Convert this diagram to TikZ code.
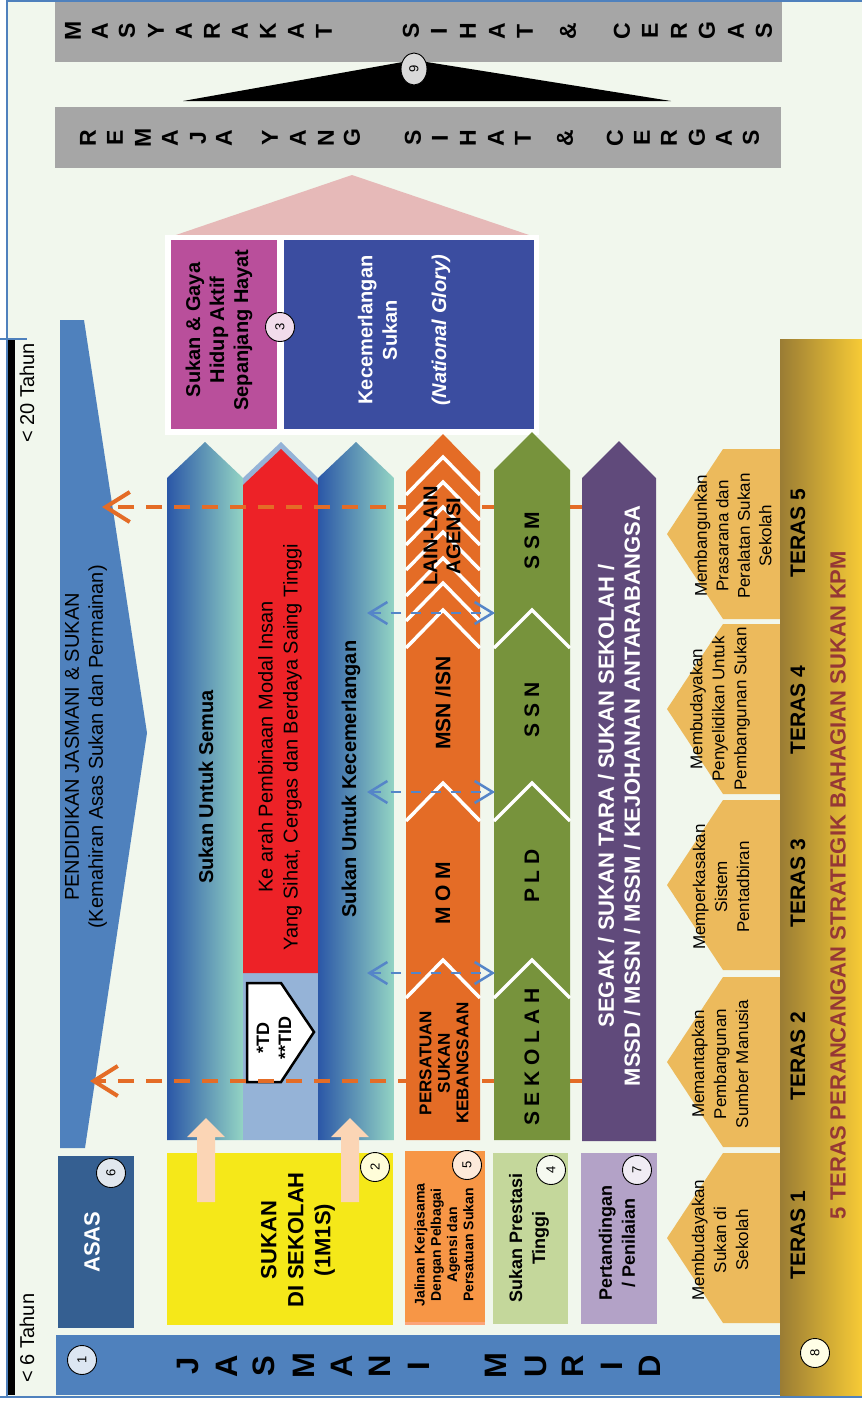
\documentclass[tikz,border=0pt]{standalone}
\usepackage{fontspec}
\setmainfont{Liberation Sans}
\usetikzlibrary{arrows.meta,shapes.geometric}
\newcommand\myfs[2]{\fontsize{#1}{#2}\selectfont}
\definecolor{bgc}{HTML}{F1F7ED}
\definecolor{bordc}{HTML}{4F81BD}
\definecolor{grayb}{HTML}{A6A6A6}
\definecolor{roof}{HTML}{E6B9B8}
\definecolor{magb}{HTML}{B94F9B}
\definecolor{navyb}{HTML}{3B4DA0}
\definecolor{pjblue}{HTML}{4F81BD}
\definecolor{gdark}{HTML}{2B57A7}
\definecolor{gcyan}{HTML}{17B3E1}
\definecolor{gpale}{HTML}{93D4C4}
\definecolor{lblue}{HTML}{95B3D7}
\definecolor{redc}{HTML}{ED2227}
\definecolor{orc}{HTML}{E46C26}
\definecolor{grc}{HTML}{77933C}
\definecolor{puc}{HTML}{604A7B}
\definecolor{peach}{HTML}{FBD5B5}
\definecolor{yel}{HTML}{F5E819}
\definecolor{orl}{HTML}{F79646}
\definecolor{salm}{HTML}{FBA57A}
\definecolor{grl}{HTML}{C4D79B}
\definecolor{lil}{HTML}{B3A2C7}
\definecolor{ter}{HTML}{ECBA5C}
\definecolor{gold1}{HTML}{9A7C34}
\definecolor{gold2}{HTML}{D5AD2B}
\definecolor{gold3}{HTML}{F7CB36}
\definecolor{asas}{HTML}{355F91}
\definecolor{dred}{HTML}{953735}
\definecolor{dashb}{HTML}{5585C8}
\begin{document}
\begin{tikzpicture}[x=1pt,y=-1pt,
  lbl/.style={rotate=90, align=center, inner sep=0pt},
  numc/.style={circle, draw=black, line width=0.9pt, minimum size=29pt, inner sep=0pt, rotate=90, font=\myfs{13}{13}},
  ltr/.style={rotate=90, inner sep=0pt, font=\bfseries\myfs{23}{23}},
  bigltr/.style={rotate=90, inner sep=0pt, font=\bfseries\myfs{31}{31}},
  chev/.style={white, line width=3.5pt},
  odash/.style={orc, line width=4pt, dash pattern=on 16pt off 12pt, -{Straight Barb[length=24pt,width=30pt]}},
  bdash/.style={dashb, line width=2.5pt, dash pattern=on 10pt off 10pt, {Straight Barb[length=18pt,width=22pt]}-{Straight Barb[length=18pt,width=22pt]}},
  terasbox/.style={fill=ter},
  tertext/.style={lbl, font=\myfs{17}{22}},
  terlbl/.style={lbl, font=\bfseries\myfs{21}{21}},
]
\useasboundingbox (0,0) rectangle (862,1401);
% background
\fill[white] (0,0) rectangle (862,1401);
\fill[bgc] (7,1) rectangle (862,1397);
\draw[bordc, line width=1.5pt] (7,1397) -- (7,1) -- (862,1);
\draw[bordc, line width=1.5pt] (0,1397) -- (862,1397);
\draw[bordc, line width=1.5pt] (0,339) -- (27,339);
\fill[black] (8,340) rectangle (15,1395);
\node[lbl, font=\myfs{20}{20}] (t20) at (27,393) {< 20 Tahun};
\node[lbl, font=\myfs{20}{20}] (t6) at (27,1338) {< 6 Tahun};

% top grey boxes
\fill[grayb] (55,2) rectangle (782,62);
\fill[grayb] (55,107) rectangle (781,168);
\foreach \c/\x [count=\i] in {M/73,A/100,S/127,Y/156,A/184,R/212,A/240,K/268,A/296,T/324,S/411,I/439,H/468,A/497,T/525,{\&}/568,C/622,E/650,R/679,G/707,A/736,S/764}
  \node[ltr] (ms\i) at (\x,31) {\c};
\foreach \c/\x [count=\i] in {R/88,E/115,M/143,A/170,J/198,A/224,Y/270,A/298,N/326,G/352,S/413,I/440,H/468,A/496,T/523,{\&}/565,C/615,E/642,R/669,G/697,A/724,S/751}
  \node[ltr] (rm\i) at (\x,138) {\c};
\fill[black] (183,101) -- (414,60) -- (671,101) -- cycle;
\node[ellipse, draw=black, line width=0.9pt, fill=gray!30, rotate=90, minimum width=32pt, minimum height=26pt, inner sep=0pt, font=\myfs{13}{13}] (c9) at (414,69) {9};

% roof and top boxes
\fill[roof] (170,237) -- (352,175) -- (535,237) -- cycle;
\fill[white] (165,235) rectangle (539,435);
\fill[magb] (171,240) rectangle (277,429);
\fill[navyb] (284,240) rectangle (534,429);
\node[lbl, font=\bfseries\myfs{20}{24}] (sg) at (219,330) {Sukan \& Gaya\\Hidup Aktif\\Sepanjang Hayat};
\node[lbl, font=\bfseries\myfs{20}{24.6}, text=white] (ks) at (404,330) {Kecemerlangan\\Sukan\\\mbox{}\\\textit{(National Glory)}};
\node[numc, fill=magb!20] (c3) at (280,327) {3};

% Pendidikan Jasmani
\fill[pjblue] (60,320) -- (84,320) -- (147,733) -- (85,1148) -- (60,1148) -- cycle;
\node[lbl, font=\myfs{20}{24}] (pj) at (86,747) {PENDIDIKAN JASMANI \& SUKAN\\(Kemahiran Asas Sukan dan Permainan)};

% columns 1-3
\shade[left color=gdark, middle color=gcyan, right color=gpale] (167,1140) -- (167,478) -- (205,442) -- (243,478) -- (243,1140) -- cycle;
\fill[lblue] (243,1140) -- (243,478) -- (281,442) -- (318,478) -- (318,1140) -- cycle;
\fill[redc] (243,973) -- (243,485) -- (281,449) -- (318,485) -- (318,973) -- cycle;
\shade[left color=gdark, middle color=gcyan, right color=gpale] (318,1140) -- (318,478) -- (356,442) -- (394,478) -- (394,1140) -- cycle;
\node[lbl, font=\bfseries\myfs{20}{20}] (sus) at (206,787) {Sukan Untuk Semua};
\node[lbl, font=\myfs{20}{25}] (ke) at (280,747) {Ke arah Pembinaan Modal Insan\\Yang Sihat, Cergas dan Berdaya Saing Tinggi};
\node[lbl, font=\bfseries\myfs{20}{20}] (suk) at (351,779) {Sukan Untuk Kecemerlangan};
\draw[black, line width=2.5pt, fill=white] (247,983) -- (281,983) -- (314,1032) -- (281,1082) -- (247,1082) -- cycle;
\node[lbl, font=\bfseries\myfs{18}{22}] (td) at (274,1038) {*TD\\**TID};

% orange dashed arrows
\coordinate (oR1) at (582,507); \coordinate (oL1) at (102,507);
\coordinate (oR2) at (582,1081); \coordinate (oL2) at (90,1081);
\draw[odash] (oR1) -- (oL1);
\draw[odash] (oR2) -- (oL2);

% orange column
\fill[orc] (406,1140) -- (406,472) -- (443,434) -- (480,472) -- (480,1140) -- cycle;
\foreach \t in {960,783,610,583,558,532,507,482,457}
  \draw[chev] (406,\t+38) -- (443,\t) -- (480,\t+38);
\node[lbl, font=\bfseries\myfs{20}{23}] (lain) at (442,536) {LAIN-LAIN\\AGENSI};
\node[lbl, font=\bfseries\myfs{21}{21}] (msn) at (443,703) {MSN /ISN};
\node[lbl, font=\bfseries\myfs{21}{21}] (mom) at (443,893) {M O M};
\node[lbl, font=\bfseries\myfs{17}{18.5}] (psk) at (444,1063) {PERSATUAN\\SUKAN\\KEBANGSAAN};

% green column
\fill[grc] (494,1140) -- (494,470) -- (532,432) -- (570,470) -- (570,1140) -- cycle;
\foreach \t in {960,783,610}
  \draw[chev] (494,\t+38) -- (532,\t) -- (570,\t+38);
\node[lbl, font=\bfseries\myfs{21}{21}] (ssm) at (532,541) {S S M};
\node[lbl, font=\bfseries\myfs{21}{21}] (ssn) at (532,710) {S S N};
\node[lbl, font=\bfseries\myfs{21}{21}] (pld) at (532,876) {P L D};
\node[lbl, font=\bfseries\myfs{21}{21}] (sek) at (532,1057) {S E K O L A H};

% purple column
\fill[puc] (582,1141) -- (582,478) -- (619,441) -- (656,478) -- (656,1141) -- cycle;
\node[lbl, font=\bfseries\myfs{22}{26}, text=white] (seg) at (619,796) {SEGAK / SUKAN TARA / SUKAN SEKOLAH /\\MSSD / MSSN / MSSM / KEJOHANAN ANTARABANGSA};

% blue dashed double arrows
\foreach \y [count=\i] in {613,792,973} {
  \coordinate (bL\i) at (367,\y); \coordinate (bR\i) at (495,\y);
  \draw[bdash] (bL\i) -- (bR\i);
}

% bottom boxes
\fill[yel] (167,1153) rectangle (393,1325);
\node[lbl, font=\bfseries\myfs{22}{27}] (sds) at (298,1240) {SUKAN\\DI SEKOLAH\\(1M1S)};
\fill[peach] (197,1202) -- (197,1137) -- (187,1137) -- (206,1118) -- (225,1137) -- (215,1137) -- (215,1202) -- cycle;
\fill[peach] (341,1202) -- (341,1137) -- (331,1137) -- (350,1118) -- (369,1137) -- (359,1137) -- (359,1202) -- cycle;
\node[numc, fill=yellow!15] (c2) at (375,1167) {2};

\fill[salm] (405,1151) rectangle (485,1325);
\fill[orl] (405,1151) rectangle (485,1322);
\node[lbl, font=\bfseries\myfs{14}{16.3}] (jk) at (444,1245) {Jalinan Kerjasama\\Dengan Pelbagai\\Agensi dan\\Persatuan Sukan};
\node[numc, fill=orl!20] (c5) at (467,1165) {5};

\fill[grl] (493,1153) rectangle (568,1324);
\node[lbl, font=\bfseries\myfs{18}{23}] (spt) at (529,1238) {Sukan Prestasi\\Tinggi};
\node[numc, fill=grl!15] (c4) at (551,1170) {4};

\fill[lil] (581,1153) rectangle (657,1324);
\node[lbl, font=\bfseries\myfs{18}{23}] (pp) at (617,1243) {Pertandingan\\/ Penilaian};
\node[numc, fill=lil!20] (c7) at (637,1170) {7};

% ASAS
\fill[asas] (58,1156) rectangle (134,1328);
\node[lbl, font=\bfseries\myfs{22}{22}, text=white] (asast) at (92,1242) {ASAS};
\node[numc, fill=asas!15] (c6) at (111,1173) {6};

% TERAS pentagons
\foreach \c in {1238,1062,885,709,534}
  \fill[ter] (781,\c-85) -- (723,\c-85) -- (667,\c) -- (723,\c+85) -- (781,\c+85) -- cycle;
\node[tertext] (tx1) at (720,1240) {Membudayakan\\Sukan di\\Sekolah};
\node[tertext] (tx2) at (720,1064) {Memantapkan\\Pembangunan\\Sumber Manusia};
\node[tertext] (tx3) at (721,887) {Memperkasakan\\Sistem\\Pentadbiran};
\node[tertext] (tx4) at (720,709) {Membudayakan\\Penyelidikan Untuk\\Pembangunan Sukan};
\node[lbl, font=\myfs{17}{21.5}] (tx5) at (733,536) {Membangunkan\\Prasarana dan\\Peralatan Sukan\\Sekolah};

% JASMANI MURID bar
\fill[bordc] (56,1335) rectangle (782,1395);
\foreach \c/\x [count=\i] in {J/188,A/227,S/264,M/304,A/342,N/380,I/419,M/496,U/536,R/573,I/612,D/650}
  \node[bigltr] (jm\i) at (\x,1366) {\c};
\node[numc, fill=bordc!20] (c1) at (82,1360) {1};

% gold bar
\shade[left color=gold1, middle color=gold2, right color=gold3] (780,339) rectangle (862,1395);
\node[terlbl] (te1) at (798,1235) {TERAS 1};
\node[terlbl] (te2) at (798,1056) {TERAS 2};
\node[terlbl] (te3) at (798,883) {TERAS 3};
\node[terlbl] (te4) at (798,710) {TERAS 4};
\node[terlbl] (te5) at (798,533) {TERAS 5};
\node[lbl, font=\bfseries\myfs{22}{22}, text=dred] (ttl) at (838,885) {5 TERAS PERANCANGAN STRATEGIK BAHAGIAN SUKAN KPM};
\node[numc, fill=yellow!10] (c8) at (815,1353) {8};
\end{tikzpicture}
\end{document}
